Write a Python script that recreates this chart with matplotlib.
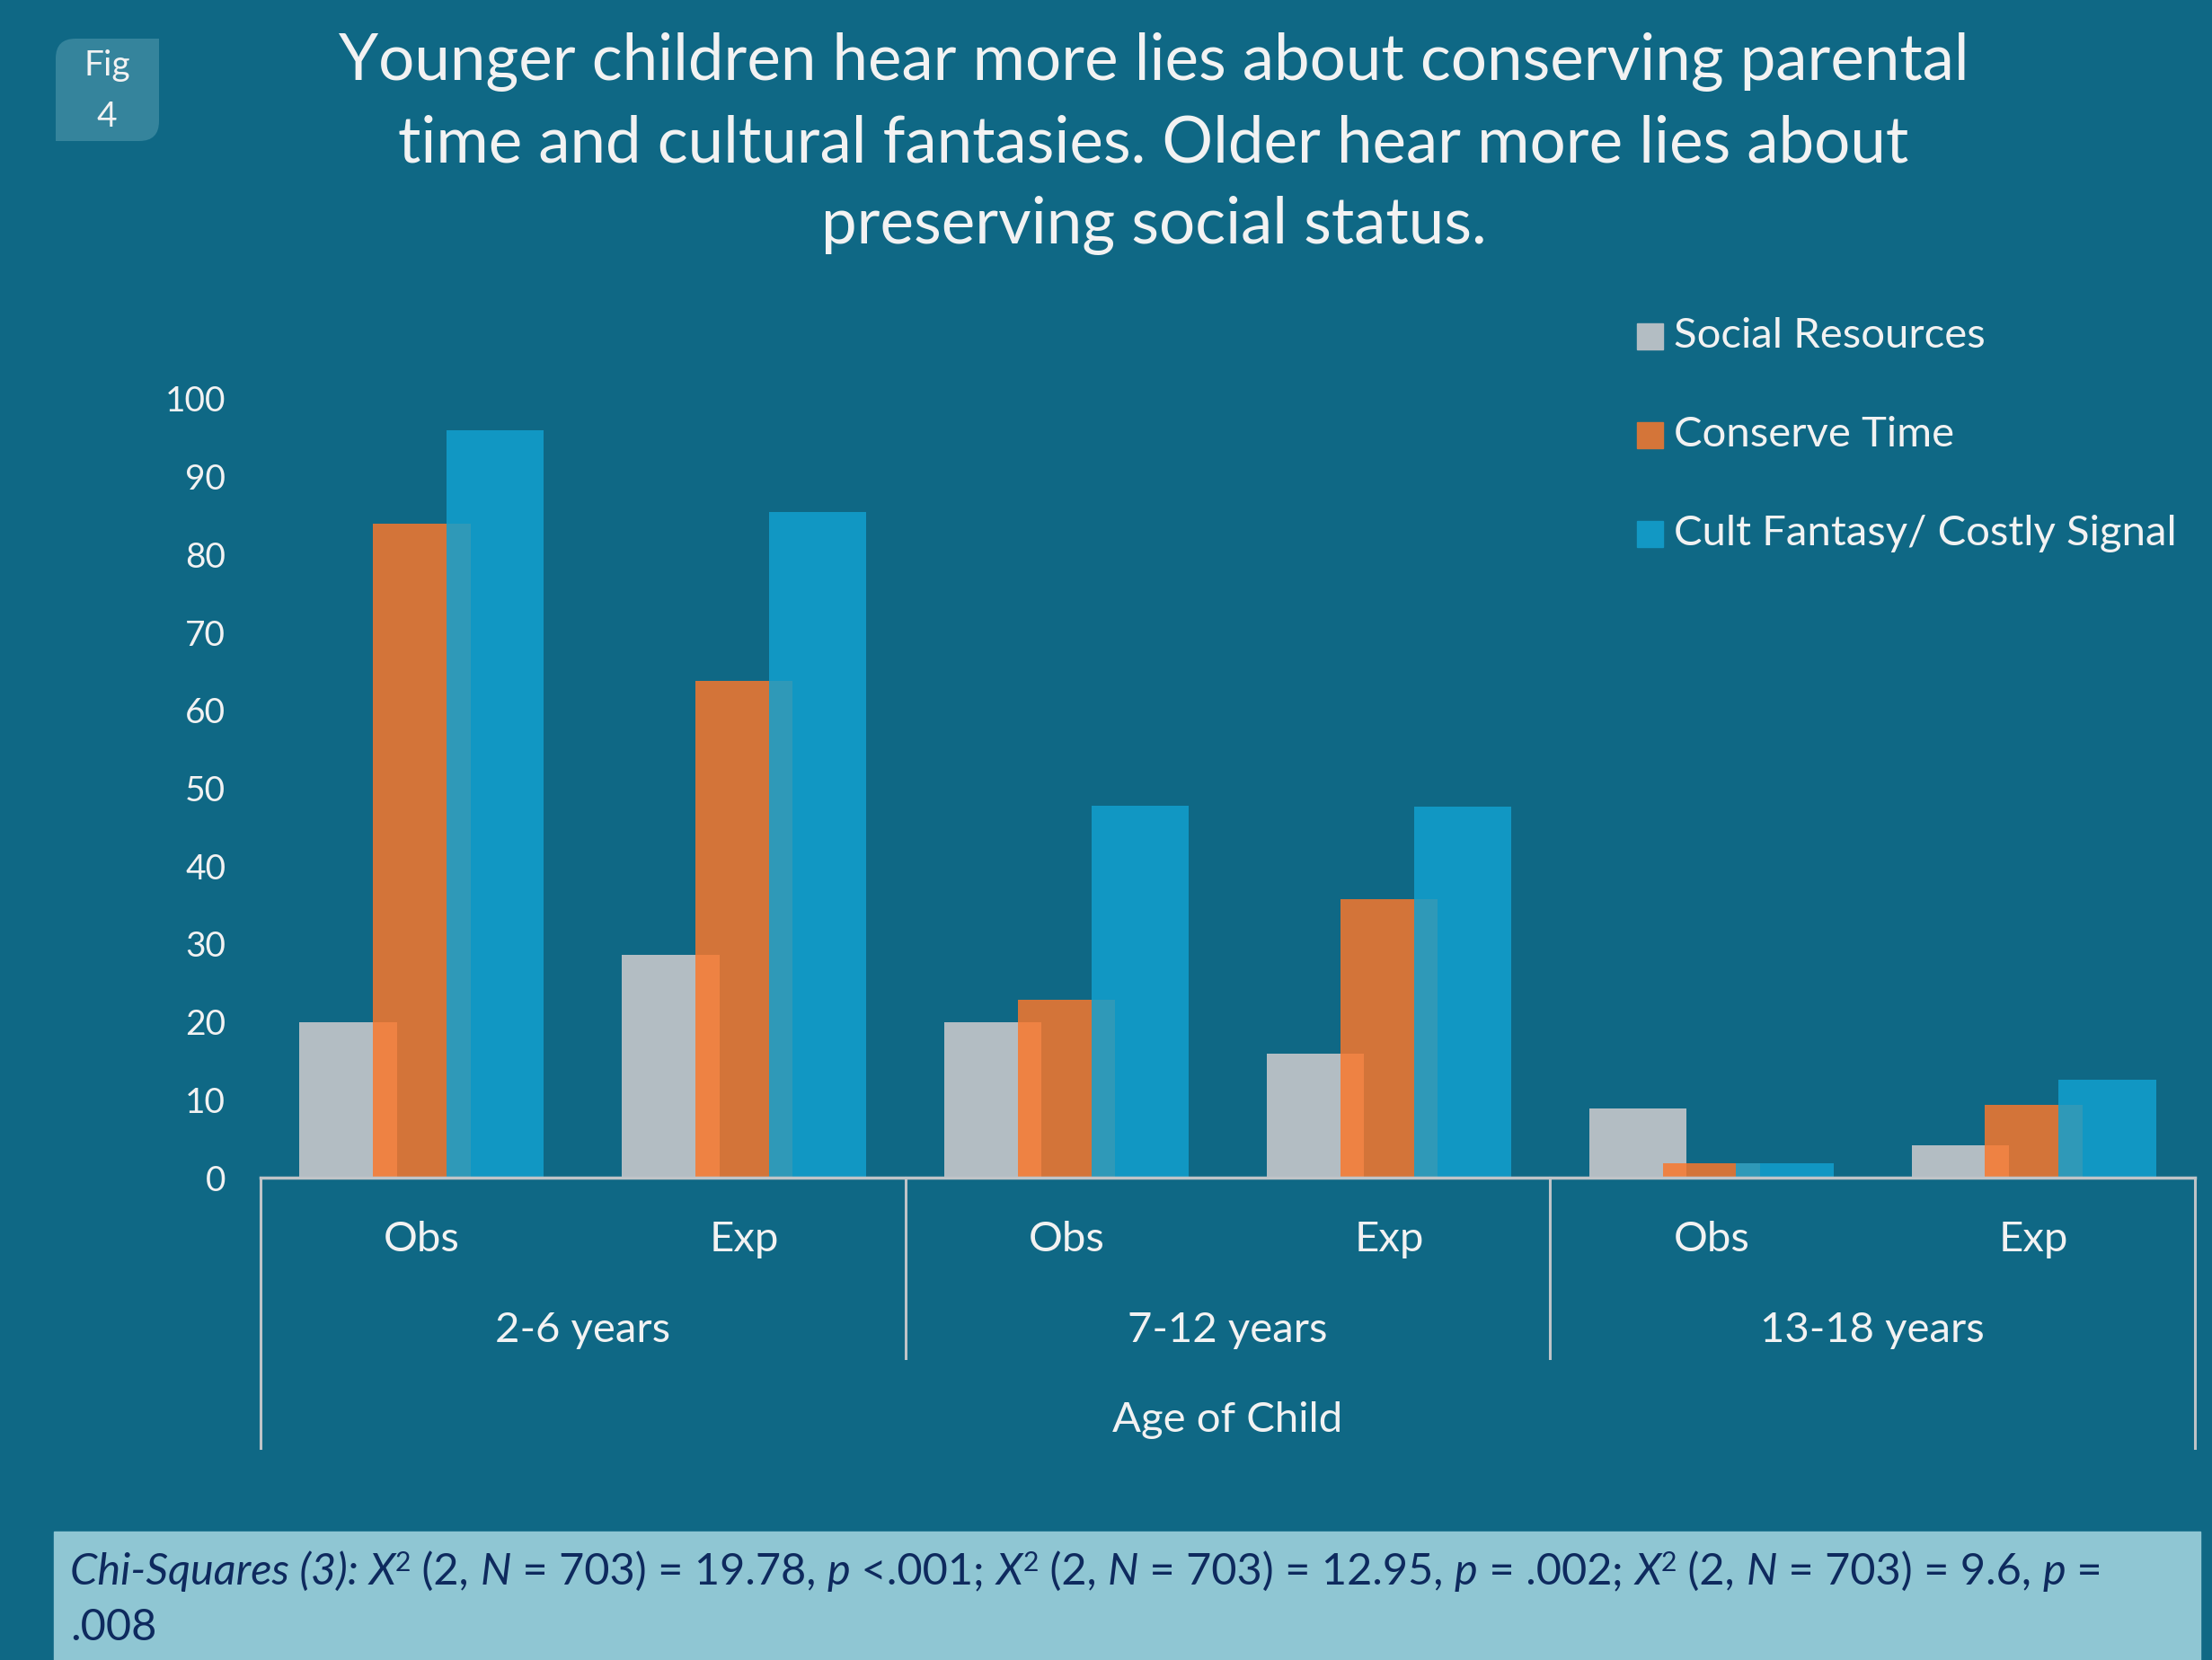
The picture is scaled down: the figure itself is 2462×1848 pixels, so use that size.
import matplotlib
matplotlib.use("Agg")
import matplotlib.pyplot as plt
from matplotlib.patches import Rectangle, PathPatch
from matplotlib.path import Path
import numpy as np

# data
categories = ["Obs", "Exp", "Obs", "Exp", "Obs", "Exp"]
age_groups = ["2-6 years", "7-12 years", "13-18 years"]
series_names = ["Social Resources", "Conserve Time", "Cult Fantasy/ Costly Signal"]
social_resources = [20.0, 28.6, 20.0, 15.9, 8.9, 4.2]
conserve_time = [84.0, 63.8, 22.8, 35.7, 1.9, 9.3]
cult_fantasy = [96.0, 85.5, 47.8, 47.6, 1.9, 12.6]
yticks = list(range(0, 101, 10))

title = ("Younger children hear more lies about conserving parental\n"
         "time and cultural fantasies. Older hear more lies about\n"
         "preserving social status.")

BG = "#0F6885"
LINE = "#BFC4C8"
TXT = "#F2F2F2"
colors = ["#B3BDC3", (250/255, 119/255, 43/255, 0.84), (18/255, 160/255, 207/255, 0.85)]
legend_colors = ["#B3BDC3", "#D47539", "#1298C4"]

W, H = 2462, 1848
fig = plt.figure(figsize=(W / 100, H / 100), dpi=100, facecolor=BG)
plt.rcParams['font.family'] = ['Lato', 'DejaVu Sans']

ax = fig.add_axes([290 / W, 1 - 1311 / H, (2443 - 290) / W, (1311 - 444) / H])
ax.set_facecolor(BG)

x = np.arange(len(categories))
bw = 0.302
off = 0.228
for i, vals in enumerate([social_resources, conserve_time, cult_fantasy]):
    ax.bar(x + (i - 1) * off, vals, width=bw, color=colors[i], zorder=2 + i, linewidth=0)

ax.set_xlim(-0.5, 5.5)
ax.set_ylim(0, 100)
ax.set_yticks(yticks)
ax.set_yticklabels([str(v) for v in yticks], color=TXT, fontsize=28)
ax.tick_params(axis='y', length=0, pad=28)
ax.set_xticks([])
for s in ["top", "right", "left"]:
    ax.spines[s].set_visible(False)
ax.spines["bottom"].set_color(LINE)
ax.spines["bottom"].set_linewidth(2.5)
ax.spines["bottom"].set_zorder(10)

# multi-level category axis
tr = ax.get_xaxis_transform()
for xb, depth in [(-0.5, -0.347), (1.5, -0.232), (3.5, -0.232), (5.5, -0.347)]:
    ax.plot([xb, xb], [0, depth], transform=tr, color=LINE, lw=2.2, clip_on=False)
for xi, c in zip(x, categories):
    ax.text(xi, -0.0796, c, transform=tr, ha="center", va="center", color=TXT, fontsize=34)
for gi, g in enumerate(age_groups):
    ax.text(gi * 2 + 0.5, -0.196, g, transform=tr, ha="center", va="center", color=TXT, fontsize=34)
ax.text(2.5, -0.311, "Age of Child", transform=tr, ha="center", va="center", color=TXT, fontsize=34)

# title
fig.text(1284 / W, 1 - 160 / H, title, ha="center", va="center", color=TXT,
         fontsize=51, fontweight="normal", linespacing=1.48)

# fig label box (leaf shape)
x0, x1, y0, y1, rr = 62 / W, 177 / W, 1 - 157 / H, 1 - 43 / H, 22 / W
ry = 22 / H
verts = [(x0, y0), (x0, y1 - ry), (x0, y1), (x0 + rr, y1), (x1, y1), (x1, y0 + ry),
         (x1, y0), (x1 - rr, y0), (x0, y0)]
codes = [Path.MOVETO, Path.LINETO, Path.CURVE3, Path.CURVE3, Path.LINETO, Path.LINETO,
         Path.CURVE3, Path.CURVE3, Path.CLOSEPOLY]
fig.patches.append(PathPatch(Path(verts, codes), transform=fig.transFigure,
                             facecolor="#35849C", edgecolor="none"))
fig.text(119 / W, 1 - 73 / H, "Fig", ha="center", va="center", color=TXT, fontsize=28)
fig.text(119 / W, 1 - 130 / H, "4", ha="center", va="center", color=TXT, fontsize=28)

# legend
for i, name in enumerate(series_names):
    yc = 374 + i * 110
    fig.patches.append(Rectangle((1822 / W, 1 - (yc + 15) / H), 29 / W, 29 / H,
                                 transform=fig.transFigure, color=legend_colors[i]))
    fig.text(1863 / W, 1 - yc / H, name, ha="left", va="center", color=TXT, fontsize=34)

# chi-square note box
fig.patches.append(Rectangle((60 / W, 0), (2449 - 60) / W, (H - 1705) / H,
                             transform=fig.transFigure, color="#8FC6D3"))

r = fig.canvas.get_renderer()
NAVY = "#0E2A5E"
FS = 35


def run_width(s, **kw):
    t1 = fig.text(0, 0, "|" + s + "|", **kw)
    t0 = fig.text(0, 0, "||", **kw)
    w = t1.get_window_extent(r).width - t0.get_window_extent(r).width
    t1.remove()
    t0.remove()
    return w


def rich_line(runs, xpx, ypx):
    for s, it, sup in runs:
        kw = dict(fontsize=FS * (0.62 if sup else 1), style="italic" if it else "normal")
        dy = 15 if sup else 0
        fig.text(xpx / W, 1 - (ypx - dy) / H, s, ha="left", va="baseline", color=NAVY, **kw)
        xpx += run_width(s, **kw)


def chi(n, val, prel, pval):
    return [("X", True, False), ("2", False, True), (" (2, ", False, False), ("N", True, False),
            (" = %s) = %s, " % (n, val), False, False), ("p", True, False),
            (" %s%s" % (prel, pval), False, False)]


line1 = [("Chi-Squares (3): ", True, False)]
line1 += chi("703", "19.78", "<", ".001") + [("; ", False, False)]
line1 += chi("703", "12.95", "= ", ".002") + [("; ", False, False)]
line1 += chi("703", "9.6", "=", "")
rich_line(line1, 78, 1764)
rich_line([(".008", False, False)], 78, 1826)

fig.savefig("out.png", dpi=100, facecolor=BG)
